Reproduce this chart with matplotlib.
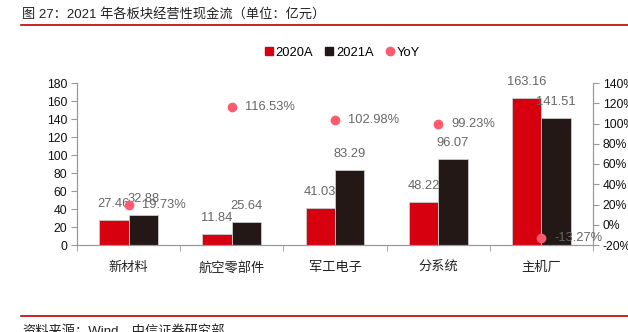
import matplotlib
matplotlib.use("Agg")
import matplotlib.pyplot as plt
import numpy as np
from matplotlib.lines import Line2D

plt.rcParams['font.family'] = ['Liberation Sans', 'Noto Sans CJK SC', 'DejaVu Sans']

categories = ["新材料", "航空零部件", "军工电子", "分系统", "主机厂"]
v2020 = [27.46, 11.84, 41.03, 48.22, 163.16]
v2021 = [32.88, 25.64, 83.29, 96.07, 141.51]
yoy = [19.73, 116.53, 102.98, 99.23, -13.27]
left_ticks = [0, 20, 40, 60, 80, 100, 120, 140, 160, 180]
right_ticks = [-20, 0, 20, 40, 60, 80, 100, 120, 140]

RED = '#D7000F'
BLACK = '#231815'
PINK = '#FF5A6E'
GRAY = '#666666'

fig = plt.figure(figsize=(6.28, 3.32), dpi=100)
ax = fig.add_axes([77/628, 1-245/332, (593-77)/628, (245-83)/332])
ax2 = ax.twinx()

x = np.arange(len(categories))
w = 0.285
ax.bar(x - w/2, v2020, w, color=RED, edgecolor='#cccccc', linewidth=0.6, zorder=2)
ax.bar(x + w/2, v2021, w, color=BLACK, edgecolor='#cccccc', linewidth=0.6, zorder=2)
for xi, v in zip(x - w/2, v2020):
    ax.annotate(f"{v:.2f}", (xi, v), xytext=(0, 10), textcoords='offset pixels',
                ha='center', va='bottom', fontsize=9.3, color=GRAY, zorder=5)
for xi, v in zip(x + w/2, v2021):
    ax.annotate(f"{v:.2f}", (xi, v), xytext=(0, 10), textcoords='offset pixels',
                ha='center', va='bottom', fontsize=9.3, color=GRAY, zorder=5)

ax.set_xlim(-0.5, len(categories) - 0.5)
ax.set_ylim(0, 180)
ax.set_yticks(left_ticks)
ax.set_xticks(x)
ax.set_xticklabels(categories, fontsize=9.5, color='#222222')
ax.set_xticks(np.arange(len(categories) + 1) - 0.5, minor=True)
ax.tick_params(axis='x', which='major', length=0, pad=12)
ax.tick_params(axis='x', which='minor', length=4, color='#999999', direction='out')
ax.tick_params(axis='y', length=4, color='#999999', labelsize=8.7, labelcolor='#111111', pad=3)

ax2.plot(x, yoy, linestyle='none', marker='o', markersize=6, color=PINK, zorder=4)
for xi, v in zip(x, yoy):
    ax2.annotate(f"{v:.2f}%", (xi, v), xytext=(13, 0), textcoords='offset pixels',
                 ha='left', va='center', fontsize=9.3, color=GRAY)
ax2.set_ylim(-20, 140)
ax2.set_yticks(right_ticks)
ax2.set_yticklabels([f"{t}%" for t in right_ticks])
ax2.tick_params(axis='y', length=4, color='#999999', labelsize=8.7, labelcolor='#111111', pad=3)

for a in (ax, ax2):
    a.spines['top'].set_visible(False)
    for s in ('left', 'right', 'bottom'):
        a.spines[s].set_color('#999999')
        a.spines[s].set_linewidth(0.8)

handles = [Line2D([], [], marker='s', linestyle='none', color=RED, markersize=5.5),
           Line2D([], [], marker='s', linestyle='none', color=BLACK, markersize=5.5),
           Line2D([], [], marker='o', linestyle='none', color=PINK, markersize=6)]
fig.legend(handles, ['2020A', '2021A', 'YoY'], loc='center', bbox_to_anchor=(341/628, 1-53/332),
           ncol=3, frameon=False, fontsize=9.3, handletextpad=0.0, columnspacing=0.8,
           handlelength=1.0)

fig.text(22/628, 1-15/332, "图 27：2021 年各板块经营性现金流（单位：亿元）", fontsize=9.5,
         ha='left', va='center', color='#222222')
fig.add_artist(Line2D([21/628, 1], [1-24.5/332, 1-24.5/332], color='#C00000', linewidth=1.2))
fig.add_artist(Line2D([21/628, 1], [1-316/332, 1-316/332], color='#C00000', linewidth=1.2))
fig.text(22/628, 1-332/332, "资料来源：Wind，中信证券研究部", fontsize=9.5,
         ha='left', va='center', color='#222222')

fig.savefig('out.png', dpi=100)
